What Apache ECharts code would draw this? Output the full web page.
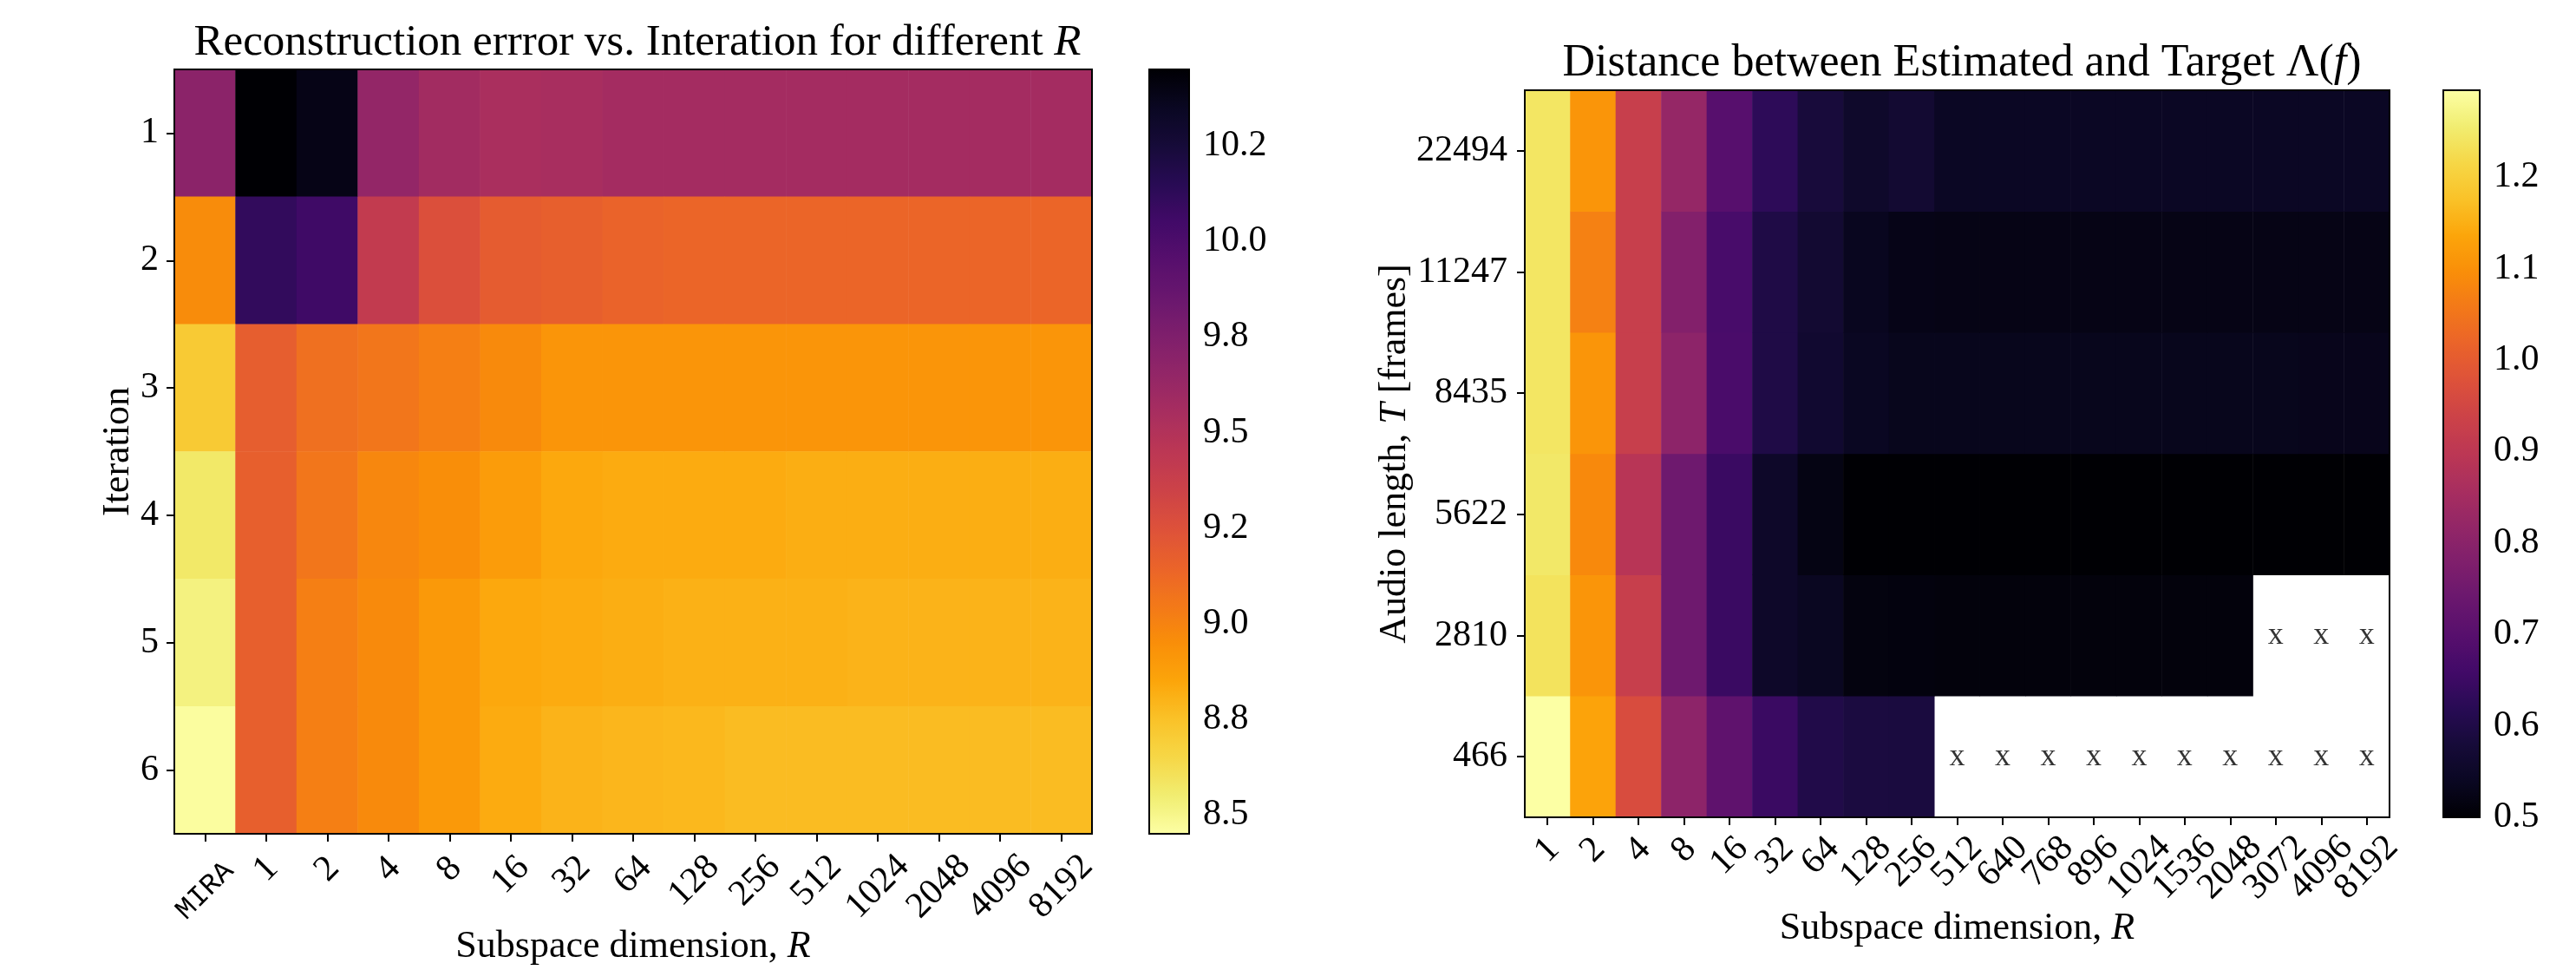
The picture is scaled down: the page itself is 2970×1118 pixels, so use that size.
<!DOCTYPE html>
<html>
<head>
<meta charset="utf-8">
<title>Reconstruction error and distance heatmaps</title>
<script src="https://cdn.jsdelivr.net/npm/echarts@6/dist/echarts.min.js"></script>
<style>
  html, body { margin: 0; background: #ffffff; }
  #chart { width: 2970px; height: 1118px; }
</style>
</head>
<body>
<div id="chart"></div>
<script>
// ---- left panel: reconstruction error per iteration ----
const subspaceLeft = ['MIRA', '1', '2', '4', '8', '16', '32', '64', '128', '256', '512', '1024', '2048', '4096', '8192'];
const iterations = ['1', '2', '3', '4', '5', '6'];
const errIter1 = [9.69, 10.45, 10.39, 9.65, 9.58, 9.54, 9.55, 9.57, 9.57, 9.57, 9.57, 9.57, 9.57, 9.57, 9.57];
const errIter2 = [8.96, 10.11, 10.06, 9.41, 9.26, 9.19, 9.17, 9.15, 9.14, 9.14, 9.14, 9.14, 9.14, 9.14, 9.14];
const errIter3 = [8.71, 9.18, 9.09, 9.06, 9.02, 8.97, 8.92, 8.92, 8.92, 8.92, 8.92, 8.92, 8.92, 8.92, 8.92];
const errIter4 = [8.57, 9.17, 9.06, 8.98, 8.95, 8.89, 8.84, 8.83, 8.83, 8.83, 8.82, 8.82, 8.82, 8.82, 8.82];
const errIter5 = [8.52, 9.17, 9.02, 8.97, 8.90, 8.84, 8.83, 8.82, 8.81, 8.81, 8.81, 8.80, 8.80, 8.80, 8.80];
const errIter6 = [8.46, 9.17, 9.02, 8.97, 8.90, 8.83, 8.80, 8.79, 8.785, 8.77, 8.77, 8.77, 8.77, 8.77, 8.77];
const errRows = [errIter1, errIter2, errIter3, errIter4, errIter5, errIter6];
const errMin = 8.45, errMax = 10.45;
const errTicks = [8.5, 8.75, 9.0, 9.25, 9.5, 9.75, 10.0, 10.25];
const errTickLabels = ['8.5', '8.8', '9.0', '9.2', '9.5', '9.8', '10.0', '10.2'];

// ---- right panel: distance between estimated and target ----
const subspaceRight = ['1', '2', '4', '8', '16', '32', '64', '128', '256', '512', '640', '768', '896', '1024', '1536', '2048', '3072', '4096', '8192'];
const audioLengths = ['466', '2810', '5622', '8435', '11247', '22494'];
const dist466   = [1.295, 1.132, 0.965, 0.806, 0.715, 0.647, 0.603, 0.590, 0.588, null, null, null, null, null, null, null, null, null, null];
const dist2810  = [1.237, 1.108, 0.925, 0.746, 0.647, 0.552, 0.538, 0.515, 0.513, 0.510, 0.510, 0.510, 0.510, 0.510, 0.510, 0.510, null, null, null];
const dist5622  = [1.247, 1.088, 0.890, 0.746, 0.647, 0.552, 0.520, 0.500, 0.500, 0.500, 0.500, 0.500, 0.500, 0.500, 0.500, 0.500, 0.500, 0.500, 0.500];
const dist8435  = [1.242, 1.108, 0.925, 0.806, 0.675, 0.599, 0.564, 0.540, 0.532, 0.532, 0.532, 0.532, 0.532, 0.532, 0.532, 0.532, 0.532, 0.530, 0.530];
const dist11247 = [1.242, 1.072, 0.925, 0.786, 0.671, 0.599, 0.568, 0.536, 0.525, 0.522, 0.522, 0.522, 0.522, 0.522, 0.522, 0.522, 0.522, 0.522, 0.522];
const dist22494 = [1.242, 1.108, 0.925, 0.822, 0.699, 0.627, 0.583, 0.556, 0.568, 0.544, 0.544, 0.544, 0.544, 0.544, 0.544, 0.544, 0.544, 0.544, 0.544];
const distRows = [dist466, dist2810, dist5622, dist8435, dist11247, dist22494];
const distMin = 0.5, distMax = 1.295;
const distTicks = [0.5, 0.6, 0.7, 0.8, 0.9, 1.0, 1.1, 1.2];
const distTickLabels = ['0.5', '0.6', '0.7', '0.8', '0.9', '1.0', '1.1', '1.2'];

// inferno colormap, 21 evenly spaced stops (low -> high)
const inferno = ['#000004', '#0a0722', '#160b39', '#280b54', '#420a68', '#570f6d', '#6a176e',
                 '#7f1f6c', '#932667', '#a82e5f', '#bc3754', '#cc4248', '#dd513a', '#ea632a',
                 '#f37819', '#f98e09', '#fca50a', '#fac228', '#f6d746', '#f1ed71', '#fcffa4'];

const serif = 'Liberation Serif';

// build heatmap cells
const errData = [];
errRows.forEach((row, y) => row.forEach((v, x) => errData.push([x, y, v])));
const distData = [];
const missing = [];
distRows.forEach((row, y) => row.forEach((v, x) => {
  if (v === null) missing.push([x, y]);
  else distData.push([x, y, v]);
}));

function tickLabel(ticks, labels) {
  return function (v) {
    let best = 0;
    ticks.forEach((t, i) => { if (Math.abs(t - v) < Math.abs(ticks[best] - v)) best = i; });
    return labels[best];
  };
}

// rotated x labels, centred on tick like matplotlib (longer labels pushed down)
const xRich = {
  p1: { fontSize: 42, fontFamily: serif, color: '#000', lineHeight: 42 },
  p2: { fontSize: 42, fontFamily: serif, color: '#000', lineHeight: 42, padding: [9.5, 9.5, 0, 0] },
  p3: { fontSize: 42, fontFamily: serif, color: '#000', lineHeight: 42, padding: [19, 19, 0, 0] },
  p4: { fontSize: 42, fontFamily: serif, color: '#000', lineHeight: 42, padding: [28.5, 28.5, 0, 0] },
  tt: { fontSize: 33, fontFamily: 'Liberation Mono', color: '#000', lineHeight: 42, padding: [35, 35, 0, 0] }
};
function xFmt(v) {
  if (v === 'MIRA') return '{tt|MIRA}';
  return '{p' + v.length + '|' + v + '}';
}

const tickStyle = { show: true, alignWithLabel: true, length: 9, lineStyle: { color: '#000', width: 2 } };
const nameStyle = { fontSize: 44, fontFamily: serif, color: '#000',
                    rich: { i: { fontSize: 44, fontFamily: serif, fontStyle: 'italic', color: '#000' } } };
const gridBase = { show: true, borderColor: '#000', borderWidth: 2, backgroundColor: 'transparent', z: 5, outerBoundsMode: 'none', containLabel: false };

const chart = echarts.init(document.getElementById('chart'));
chart.setOption({
  backgroundColor: '#ffffff',
  animation: false,
  title: [{
    text: 'Reconstruction errror vs. Interation for different {i|R}',
    left: 730, top: 19, textAlign: 'center',
    textStyle: { fontSize: 51, fontWeight: 'normal', fontFamily: serif, color: '#000',
                 rich: { i: { fontSize: 51, fontFamily: serif, fontStyle: 'italic', color: '#000' } } }
  }, {
    text: 'Distance between Estimated and Target \u039b({i|f})',
    left: 2257, top: 42, textAlign: 'center',
    textStyle: { fontSize: 52, fontWeight: 'normal', fontFamily: serif, color: '#000',
                 rich: { i: { fontSize: 52, fontFamily: serif, fontStyle: 'italic', color: '#000' } } }
  }],
  grid: [
    Object.assign({ left: 201, top: 80, width: 1058, height: 881 }, gridBase),
    Object.assign({ left: 1758, top: 104, width: 997, height: 838 }, gridBase),
    Object.assign({ left: 1325, top: 80, width: 46, height: 881 }, gridBase),
    Object.assign({ left: 2817, top: 104, width: 42, height: 838 }, gridBase)
  ],
  xAxis: [{
    type: 'category', gridIndex: 0, data: subspaceLeft,
    axisLine: { show: false }, axisTick: tickStyle, splitLine: { show: false },
    axisLabel: { rotate: 45, align: 'center', verticalAlign: 'middle', margin: 41, interval: 0, formatter: xFmt, rich: xRich },
    name: 'Subspace dimension, {i|R}', nameLocation: 'middle', nameGap: 108, nameMoveOverlap: false, nameTextStyle: nameStyle
  }, {
    type: 'category', gridIndex: 1, data: subspaceRight,
    axisLine: { show: false }, axisTick: tickStyle, splitLine: { show: false },
    axisLabel: { rotate: 45, align: 'center', verticalAlign: 'middle', margin: 38, interval: 0, formatter: xFmt, rich: xRich },
    name: 'Subspace dimension, {i|R}', nameLocation: 'middle', nameGap: 106, nameMoveOverlap: false, nameTextStyle: nameStyle
  }, {
    type: 'value', gridIndex: 2, min: 0, max: 1, show: false
  }, {
    type: 'value', gridIndex: 3, min: 0, max: 1, show: false
  }],
  yAxis: [{
    type: 'category', gridIndex: 0, data: iterations, inverse: true,
    axisLine: { show: false }, axisTick: tickStyle, splitLine: { show: false },
    axisLabel: { fontSize: 42, fontFamily: serif, color: '#000', margin: 18 },
    name: 'Iteration', nameLocation: 'middle', nameGap: 43, nameMoveOverlap: false, nameTextStyle: nameStyle
  }, {
    type: 'category', gridIndex: 1, data: audioLengths,
    axisLine: { show: false }, axisTick: tickStyle, splitLine: { show: false },
    axisLabel: { fontSize: 42, fontFamily: serif, color: '#000', margin: 20 },
    name: 'Audio length, {i|T} [frames]', nameLocation: 'middle', nameGap: 128, nameMoveOverlap: false, nameTextStyle: nameStyle
  }, {
    type: 'value', gridIndex: 2, position: 'right', min: errMin, max: errMax,
    axisLine: { show: false }, splitLine: { show: false },
    axisTick: { show: true, length: 8, lineStyle: { color: '#000', width: 2 }, customValues: errTicks },
    axisLabel: { fontSize: 42, fontFamily: serif, color: '#000', margin: 16, customValues: errTicks,
                 formatter: tickLabel(errTicks, errTickLabels) }
  }, {
    type: 'value', gridIndex: 3, position: 'right', min: distMin, max: distMax,
    axisLine: { show: false }, splitLine: { show: false },
    axisTick: { show: true, length: 8, lineStyle: { color: '#000', width: 2 }, customValues: distTicks },
    axisLabel: { fontSize: 42, fontFamily: serif, color: '#000', margin: 16, customValues: distTicks,
                 formatter: tickLabel(distTicks, distTickLabels) }
  }],
  visualMap: [{
    type: 'continuous', seriesIndex: 0, min: errMin, max: errMax,
    inRange: { color: inferno.slice().reverse() },
    left: 1325, top: 80, itemWidth: 46, itemHeight: 881, padding: 0,
    calculable: false, hoverLink: false
  }, {
    type: 'continuous', seriesIndex: 1, min: distMin, max: distMax,
    inRange: { color: inferno },
    left: 2817, top: 104, itemWidth: 42, itemHeight: 838, padding: 0,
    calculable: false, hoverLink: false
  }],
  series: [{
    type: 'heatmap', xAxisIndex: 0, yAxisIndex: 0, data: errData,
    emphasis: { disabled: true }
  }, {
    type: 'heatmap', xAxisIndex: 1, yAxisIndex: 1, data: distData,
    emphasis: { disabled: true }
  }, {
    type: 'scatter', xAxisIndex: 1, yAxisIndex: 1, data: missing,
    symbolSize: 0, silent: true,
    label: { show: true, position: 'inside', formatter: 'x', fontSize: 36, fontFamily: serif, color: '#000' }
  }]
});
</script>
</body>
</html>
